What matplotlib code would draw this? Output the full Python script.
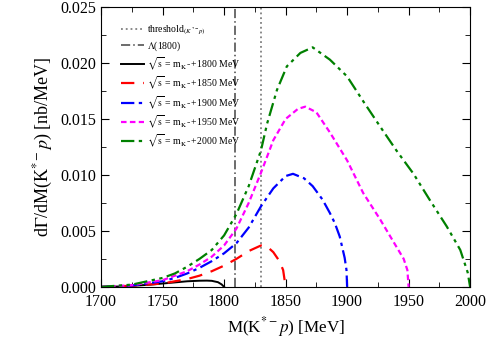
import matplotlib
matplotlib.use("Agg")
import matplotlib.pyplot as plt
from matplotlib.ticker import MultipleLocator

plt.rcParams["font.family"] = ["Liberation Serif", "DejaVu Serif"]
plt.rcParams["mathtext.fontset"] = "stix"

# curves, M in MeV, dGamma/dM in nb/MeV
m_1800 = [1700, 1720, 1740, 1750, 1760, 1770, 1780, 1786, 1790, 1795, 1798, 1800]
g_1800 = [0.0, 0.00005, 0.0002, 0.0003, 0.0004, 0.0005, 0.00055, 0.00056, 0.00054, 0.00042, 0.00022, 0.0]

m_1850 = [1700, 1725, 1750, 1760, 1770, 1780, 1790, 1800, 1810, 1820, 1830, 1835, 1840, 1845, 1848, 1850]
g_1850 = [0.0, 0.0001, 0.0003, 0.0005, 0.0007, 0.001, 0.0014, 0.0019, 0.0025, 0.0032, 0.0037, 0.0036, 0.0031, 0.0023, 0.0015, 0.0]

m_1900 = [1700, 1725, 1750, 1760, 1770, 1780, 1790, 1800, 1810, 1820, 1830, 1840, 1850, 1856, 1865,
          1872, 1880, 1886, 1890, 1894, 1898, 1899.5, 1900]
g_1900 = [0.0, 0.00012, 0.0005, 0.0008, 0.0012, 0.0017, 0.0023, 0.003, 0.0039, 0.0053, 0.0072, 0.0088, 0.0099, 0.0101, 0.0097,
          0.009, 0.0078, 0.0066, 0.0057, 0.0045, 0.0026, 0.0015, 0.0]

m_1950 = [1700, 1725, 1750, 1760, 1770, 1780, 1790, 1800, 1810, 1820, 1830, 1840, 1850, 1860, 1866,
          1875, 1886, 1900, 1913, 1927, 1940, 1946, 1949, 1950]
g_1950 = [0.0, 0.00015, 0.0006, 0.001, 0.0014, 0.002, 0.0027, 0.0037, 0.0052, 0.0075, 0.0102, 0.0131, 0.015, 0.0159, 0.0161,
          0.0156, 0.0138, 0.0113, 0.0084, 0.006, 0.0036, 0.0025, 0.0015, 0.0]

m_2000 = [1700, 1725, 1750, 1760, 1770, 1780, 1790, 1800, 1810, 1820, 1830, 1835, 1843, 1851, 1862, 1872,
          1886, 1900, 1913, 1927, 1940, 1954, 1967, 1981, 1992, 1998, 2000]
g_2000 = [0.0, 0.0002, 0.0008, 0.0012, 0.0018, 0.0025, 0.0033, 0.0046, 0.0065, 0.009, 0.0122, 0.0146, 0.0176, 0.0197, 0.0209, 0.0214,
          0.0203, 0.0188, 0.0166, 0.0143, 0.0122, 0.0101, 0.0078, 0.0054, 0.0033, 0.0013, 0.0]

threshold = 1830
lambda_1800 = 1809

fig = plt.figure(figsize=(4.98, 3.52), dpi=100)
ax = fig.add_axes([0.203, 0.185, 0.741, 0.795])

ax.axvline(threshold, color="gray", ls=":", lw=1.3, label=r"threshold$_{(K^{*-}p)}$")
ax.axvline(lambda_1800, color="#444444", ls=(0, (6, 2, 1, 2)), lw=1.1, label=r"$\Lambda$(1800)")
ax.plot(m_1800, g_1800, color="black", lw=1.4, label=r"$\sqrt{\rm s}$ = m$_{\rm K^-}$+1800 MeV")
ax.plot(m_1850, g_1850, color="red", lw=1.6, ls=(0, (6, 4)), label=r"$\sqrt{\rm s}$ = m$_{\rm K^-}$+1850 MeV")
ax.plot(m_1900, g_1900, color="blue", lw=1.6, ls=(0, (6, 2, 1.5, 2)), label=r"$\sqrt{\rm s}$ = m$_{\rm K^-}$+1900 MeV")
ax.plot(m_1950, g_1950, color="magenta", lw=1.6, ls=(0, (2.5, 1.5)), label=r"$\sqrt{\rm s}$ = m$_{\rm K^-}$+1950 MeV")
ax.plot(m_2000, g_2000, color="green", lw=1.6, ls=(0, (6, 2, 1.5, 2, 1.5, 2)), label=r"$\sqrt{\rm s}$ = m$_{\rm K^-}$+2000 MeV")

ax.set_xlim(1700, 2000)
ax.set_ylim(0, 0.025)
ax.xaxis.set_major_locator(MultipleLocator(50))
ax.xaxis.set_minor_locator(MultipleLocator(25))
ax.yaxis.set_major_locator(MultipleLocator(0.005))
ax.yaxis.set_minor_locator(MultipleLocator(0.0025))
ax.yaxis.set_major_formatter(matplotlib.ticker.FormatStrFormatter("%.3f"))
ax.tick_params(which="both", direction="in", top=True, right=True, labelsize=11.5)
ax.tick_params(which="major", length=6)
ax.tick_params(which="minor", length=3.5)
ax.tick_params(axis="x", pad=5)

ax.set_xlabel(r"M(K$^{*-}$$p$) [MeV]", fontsize=12.3)
ax.set_ylabel(r"d$\Gamma$/dM(K$^{*-}$$p$) [nb/MeV]", fontsize=13)

ax.legend(loc="upper left", bbox_to_anchor=(0.035, 0.965), frameon=False, fontsize=7, handlelength=2.4,
          labelspacing=0.25, handletextpad=0.3, borderaxespad=0.3)

fig.savefig("out.png", dpi=100)
